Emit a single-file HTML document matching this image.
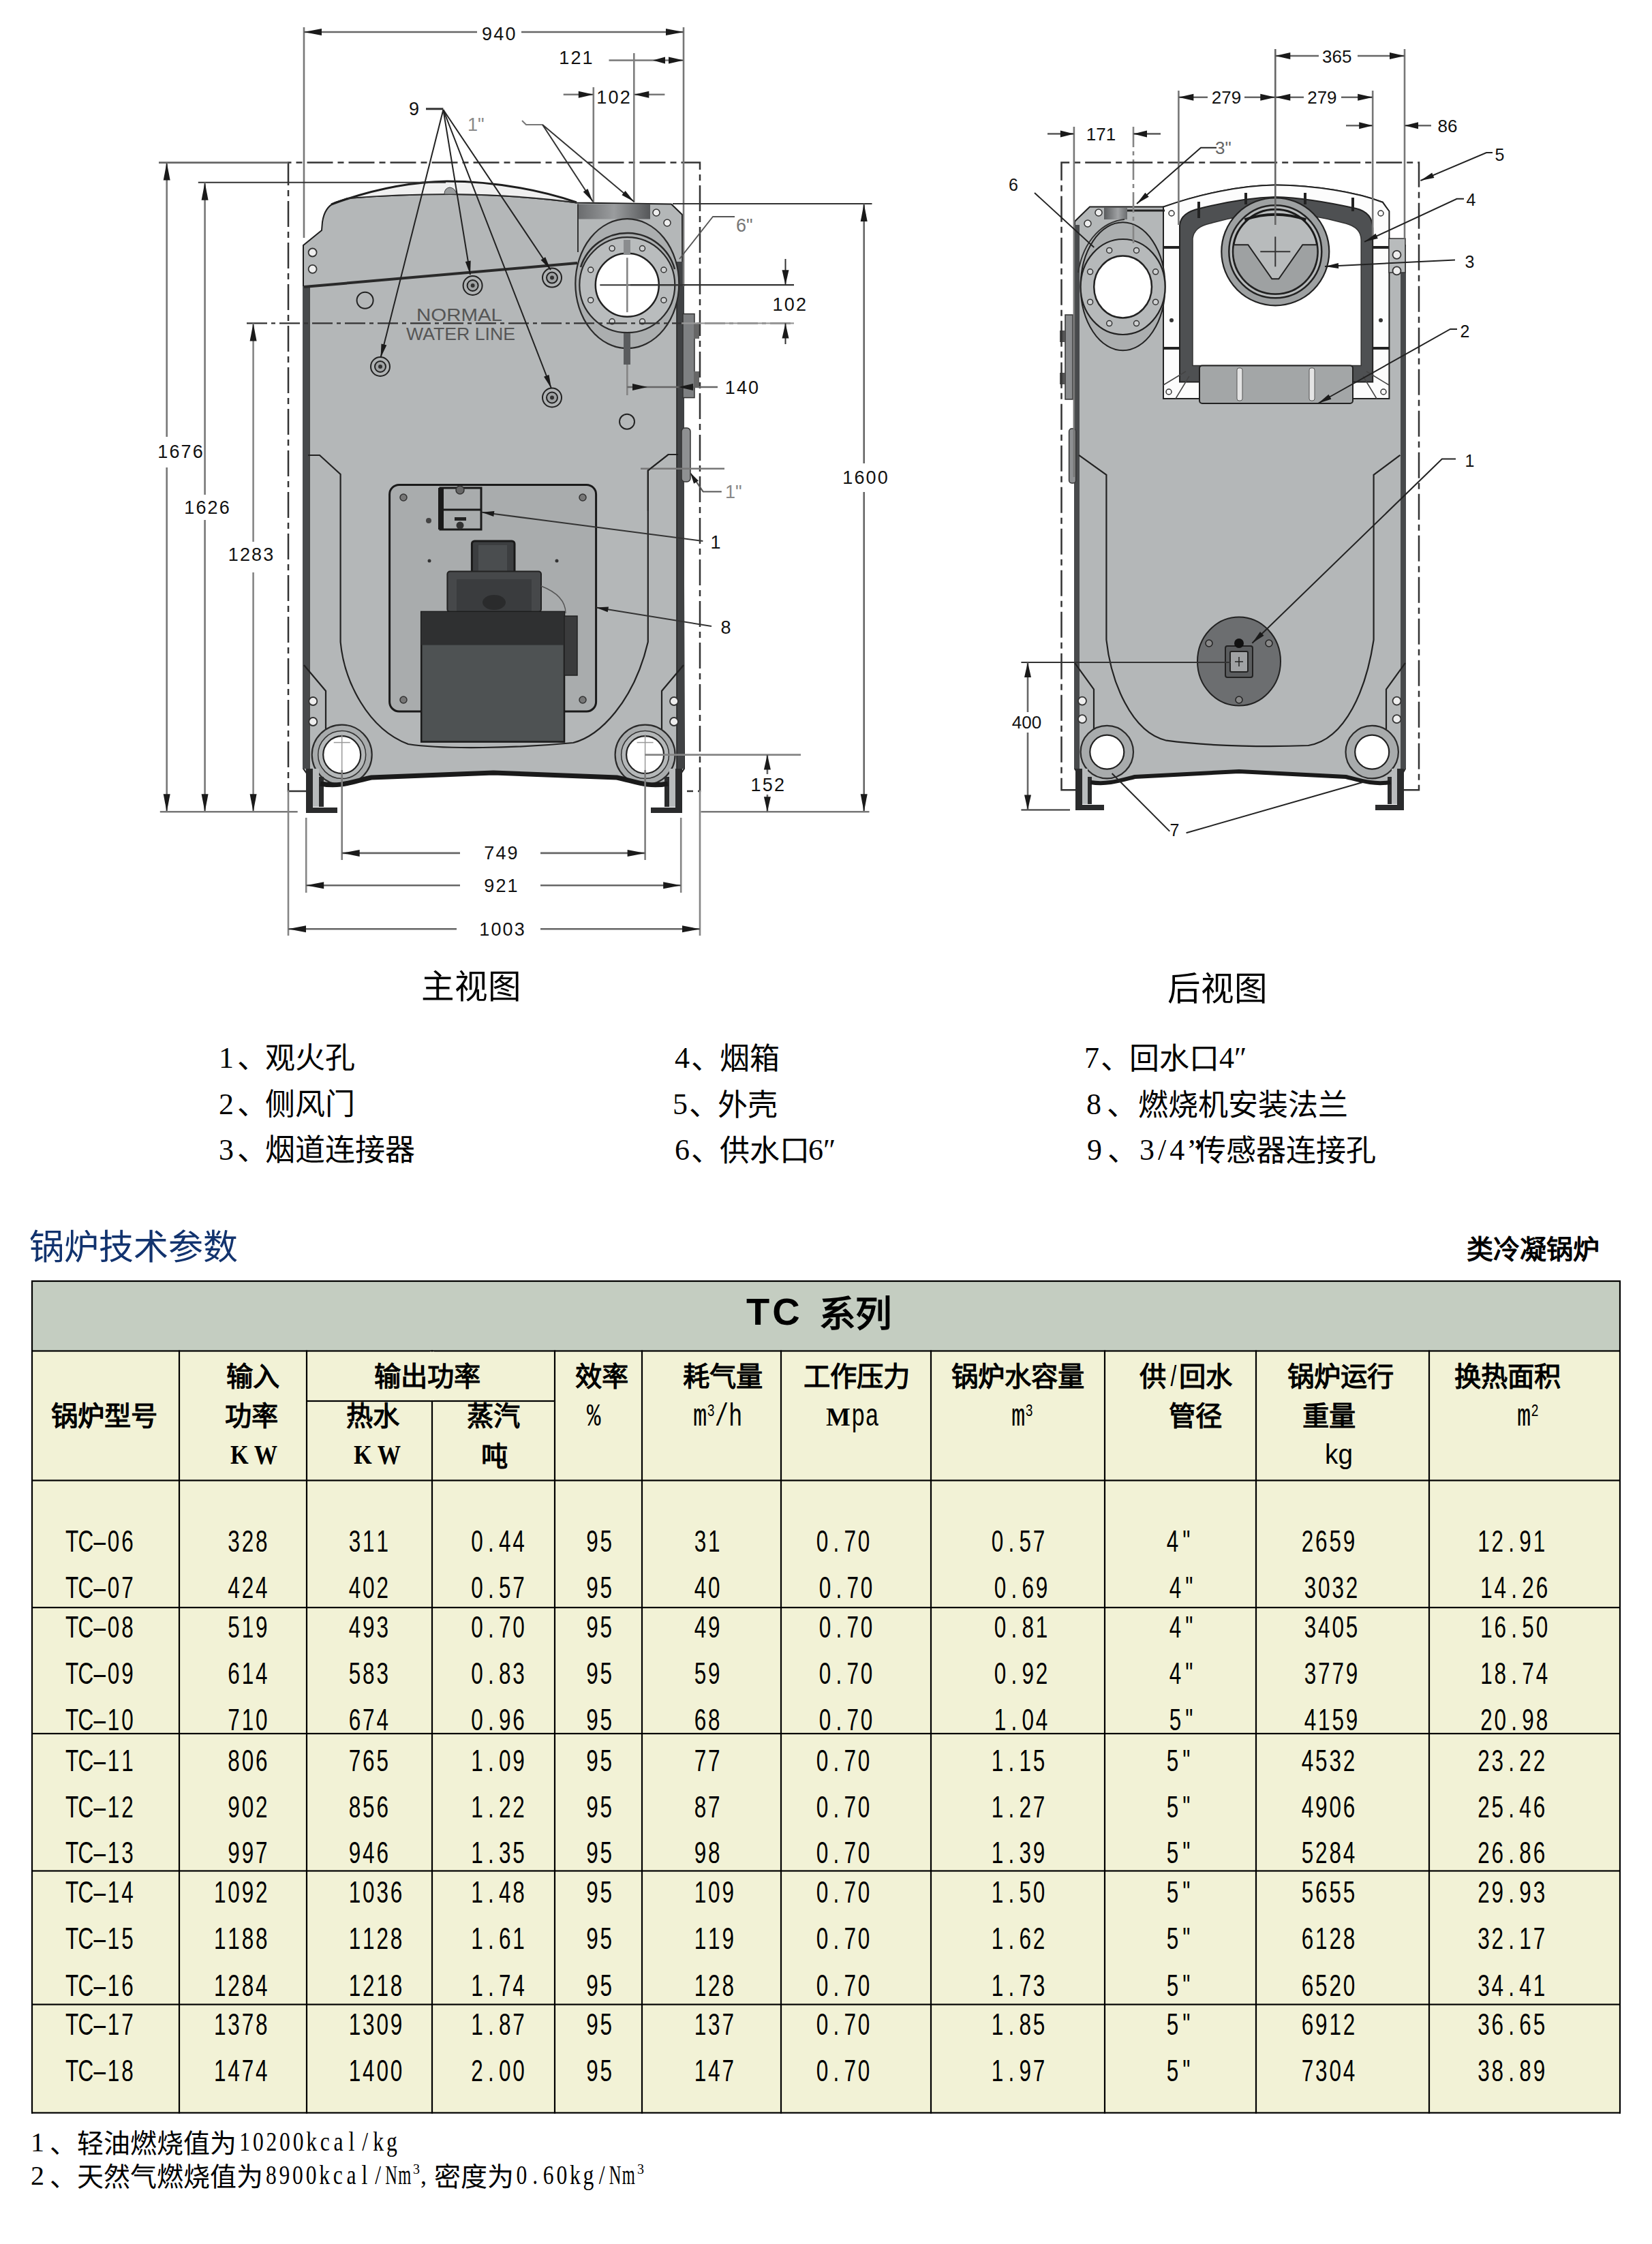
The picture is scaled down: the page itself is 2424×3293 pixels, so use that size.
<!DOCTYPE html>
<html lang="zh-CN"><head><meta charset="utf-8"><title>TC</title>
<style>
html,body{margin:0;padding:0;background:#fff}
body{width:2424px;height:3293px;overflow:hidden;position:relative}
svg{position:absolute;left:0;top:0}
.m{font-family:"Liberation Mono",monospace}
.s{font-family:"Liberation Sans",sans-serif}
.c{font-family:"Liberation Sans",sans-serif}
.sb{font-family:"Liberation Serif",serif;font-weight:bold}
.se{font-family:"Liberation Serif",serif}
.d{font-family:"Liberation Sans",sans-serif;font-size:26px;letter-spacing:2.5px}
</style></head><body>
<svg width="2424" height="3293" viewBox="0 0 2424 3293">
<path d="M445,1128 L445,360 L472,338 L473,326 Q476,304 492,297 L510,291 C560,287 620,285 662,285 C740,286 800,291 846,297.5 L985,299.5 L1001,315 L1004,1128 L992,1146 L950,1152 L905,1142 L724,1135 L545,1142 L500,1152 L458,1146 Z" fill="#B4B7B8" stroke="#1E1E1E" stroke-width="2"/>
<rect x="444" y="420" width="9" height="708" fill="#484A4C"/>
<rect x="993" y="384" width="11" height="744" fill="#404244"/>
<line x1="454" y1="420" x2="454" y2="1128" stroke="#222" stroke-width="1.5"/>
<line x1="993" y1="430" x2="993" y2="1128" stroke="#222" stroke-width="1.5"/>
<path d="M486,300 C540,280 600,267 656,266 C730,266 800,281 846,297 C800,291 740,286 662,285 C620,285 560,287 510,291 Z" fill="#F0F0F0" stroke="none" stroke-width="0"/>
<path d="M486,300 C540,280 600,267 656,266 C730,266 800,281 846,297" fill="none" stroke="#1e1e1e" stroke-width="3"/>
<path d="M510,291 C560,287 620,285 662,285 C740,286 800,291 846,297.5" fill="none" stroke="#2a2a2a" stroke-width="2"/>
<path d="M652,285 Q652,276 660,275 Q668,276 670,285 Z" fill="#9A9D9E" stroke="#444" stroke-width="1"/>
<path d="M446,421 L847,386" fill="none" stroke="#2a2a2a" stroke-width="4"/>
<circle cx="458.6" cy="370.5" r="6" fill="#EEE" stroke="#333" stroke-width="1.8"/>
<circle cx="458.6" cy="394.8" r="6" fill="#EEE" stroke="#333" stroke-width="1.8"/>
<defs><linearGradient id="fb" x1="0" x2="1"><stop offset="0" stop-color="#6A6C6E"/><stop offset="0.5" stop-color="#9A9C9E"/><stop offset="1" stop-color="#555759"/></linearGradient></defs>
<rect x="848" y="299.5" width="106" height="22" rx="0" fill="url(#fb)" stroke="none" stroke-width="0"/>
<path d="M848,299.5 L848,370" fill="none" stroke="#333" stroke-width="2"/>
<circle cx="963" cy="312" r="5" fill="#EEE" stroke="#333" stroke-width="1.5"/>
<circle cx="979" cy="327" r="5" fill="#EEE" stroke="#333" stroke-width="1.5"/>
<ellipse cx="920.3" cy="416.2" rx="76" ry="95" fill="#ABAEAF" stroke="#2a2a2a" stroke-width="2.2"/>
<path d="M852,392 A72,72 0 0 1 990,395" fill="none" stroke="#2a2a2a" stroke-width="2.5"/>
<polygon points="985.0,445.0 947.1,482.9 893.5,482.9 855.6,445.0 855.6,391.4 893.5,353.5 947.1,353.5 985.0,391.4" fill="#B9BCBD" stroke="#2a2a2a" stroke-width="2.2"/>
<circle cx="920.3" cy="418.2" r="70" fill="#B9BCBD" stroke="#2a2a2a" stroke-width="2.2"/>
<circle cx="973.9" cy="440.4" r="4" fill="#D0D2D3" stroke="#333" stroke-width="1.5"/>
<circle cx="942.5" cy="471.8" r="4" fill="#D0D2D3" stroke="#333" stroke-width="1.5"/>
<circle cx="898.1" cy="471.8" r="4" fill="#D0D2D3" stroke="#333" stroke-width="1.5"/>
<circle cx="866.7" cy="440.4" r="4" fill="#D0D2D3" stroke="#333" stroke-width="1.5"/>
<circle cx="866.7" cy="396.0" r="4" fill="#D0D2D3" stroke="#333" stroke-width="1.5"/>
<circle cx="898.1" cy="364.6" r="4" fill="#D0D2D3" stroke="#333" stroke-width="1.5"/>
<circle cx="942.5" cy="364.6" r="4" fill="#D0D2D3" stroke="#333" stroke-width="1.5"/>
<circle cx="973.9" cy="396.0" r="4" fill="#D0D2D3" stroke="#333" stroke-width="1.5"/>
<circle cx="920.3" cy="418.2" r="46.5" fill="#FFFFFF" stroke="#222" stroke-width="2.5"/>
<rect x="915" y="352" width="10" height="22" rx="0" fill="#8A8C8E" stroke="none" stroke-width="0"/>
<rect x="915" y="489" width="10" height="46" rx="0" fill="#5A5C5E" stroke="none" stroke-width="0"/>
<line x1="880.3" y1="418.2" x2="1005.3" y2="418.2" stroke="#333" stroke-width="2"/>
<line x1="920.3" y1="378.2" x2="920.3" y2="458.2" stroke="#858585" stroke-width="2.6"/>
<circle cx="693.6" cy="419" r="14" fill="#B0B3B4" stroke="#222" stroke-width="2"/>
<circle cx="693.6" cy="419" r="8" fill="#A0A3A4" stroke="#222" stroke-width="2"/>
<circle cx="693.6" cy="419" r="3" fill="#333" stroke="none" stroke-width="0"/>
<circle cx="810" cy="407.6" r="14" fill="#B0B3B4" stroke="#222" stroke-width="2"/>
<circle cx="810" cy="407.6" r="8" fill="#A0A3A4" stroke="#222" stroke-width="2"/>
<circle cx="810" cy="407.6" r="3" fill="#333" stroke="none" stroke-width="0"/>
<circle cx="558" cy="538" r="14" fill="#B0B3B4" stroke="#222" stroke-width="2"/>
<circle cx="558" cy="538" r="8" fill="#A0A3A4" stroke="#222" stroke-width="2"/>
<circle cx="558" cy="538" r="3" fill="#333" stroke="none" stroke-width="0"/>
<circle cx="810" cy="583.5" r="14" fill="#B0B3B4" stroke="#222" stroke-width="2"/>
<circle cx="810" cy="583.5" r="8" fill="#A0A3A4" stroke="#222" stroke-width="2"/>
<circle cx="810" cy="583.5" r="3" fill="#333" stroke="none" stroke-width="0"/>
<circle cx="535.6" cy="440.7" r="12" fill="none" stroke="#222" stroke-width="2"/>
<circle cx="920" cy="618.8" r="11" fill="none" stroke="#222" stroke-width="2"/>
<text x="611" y="471" style="font-family:'Liberation Sans',sans-serif;font-size:25px" fill="#555" textLength="126" lengthAdjust="spacingAndGlyphs">NORMAL</text>
<text x="596" y="498.5" style="font-family:'Liberation Sans',sans-serif;font-size:25px" fill="#555" textLength="160" lengthAdjust="spacingAndGlyphs">WATER LINE</text>
<line x1="362" y1="474.4" x2="1165" y2="474.4" stroke="#333" stroke-width="2.2" stroke-dasharray="30 6 6 6"/>
<rect x="1002" y="460.6" width="17" height="123" rx="0" fill="#7E8082" stroke="#333" stroke-width="1.5"/>
<rect x="1018" y="475" width="8" height="22" rx="0" fill="#666" stroke="none" stroke-width="0"/>
<rect x="1018" y="545" width="8" height="22" rx="0" fill="#666" stroke="none" stroke-width="0"/>
<rect x="1000" y="628" width="13" height="79" rx="5" fill="#8E9092" stroke="#333" stroke-width="1.5"/>
<path d="M452,668 L469,668 L499.6,696 L499.6,942 C505,1000 540,1070 599,1092 C650,1100 760,1098 841,1090 C880,1080 930,1030 950.8,942 L950.8,690.5 L980.7,667 L995,667" fill="none" stroke="#222" stroke-width="2.2"/>
<path d="M446,976 L478,1014 L478,1074" fill="none" stroke="#222" stroke-width="2.2"/>
<path d="M1003,976 L971,1014 L971,1074" fill="none" stroke="#222" stroke-width="2.2"/>
<circle cx="459.3" cy="1029" r="6" fill="#EEE" stroke="#333" stroke-width="1.8"/>
<circle cx="459.3" cy="1059" r="6" fill="#EEE" stroke="#333" stroke-width="1.8"/>
<circle cx="989" cy="1029" r="6" fill="#EEE" stroke="#333" stroke-width="1.8"/>
<circle cx="989" cy="1059" r="6" fill="#EEE" stroke="#333" stroke-width="1.8"/>
<rect x="571.6" y="711.4" width="303" height="332.6" rx="14" fill="#A9ACAD" stroke="#1a1a1a" stroke-width="3"/>
<circle cx="592" cy="730" r="5" fill="#777" stroke="#333" stroke-width="1.5"/>
<circle cx="855" cy="730" r="5" fill="#777" stroke="#333" stroke-width="1.5"/>
<circle cx="592" cy="1027" r="5" fill="#777" stroke="#333" stroke-width="1.5"/>
<circle cx="855" cy="1027" r="5" fill="#777" stroke="#333" stroke-width="1.5"/>
<circle cx="629" cy="764" r="4" fill="#444" stroke="none" stroke-width="0"/>
<circle cx="630" cy="823" r="2.5" fill="#333" stroke="none" stroke-width="0"/>
<circle cx="817" cy="823" r="2.5" fill="#333" stroke="none" stroke-width="0"/>
<path d="M646,716 L706,716 L706,777 L646,777 Z" fill="none" stroke="#1a1a1a" stroke-width="3"/>
<rect x="643" y="716" width="8" height="61" rx="0" fill="#1a1a1a" stroke="none" stroke-width="0"/>
<line x1="646" y1="748" x2="706" y2="748" stroke="#1a1a1a" stroke-width="3"/>
<rect x="667" y="759" width="17" height="5" rx="0" fill="#222" stroke="none" stroke-width="0"/>
<circle cx="675" cy="771" r="5.5" fill="#333" stroke="none" stroke-width="0"/>
<circle cx="675" cy="719" r="6" fill="#666" stroke="#333" stroke-width="1.5"/>
<rect x="692.4" y="794" width="62.6" height="56" rx="4" fill="#3C3E40" stroke="#1a1a1a" stroke-width="3"/>
<rect x="702" y="800" width="42" height="42" rx="0" fill="#4A4D4F" stroke="none" stroke-width="0"/>
<rect x="656.4" y="838.6" width="137.6" height="59.3" rx="4" fill="#46484A" stroke="#222" stroke-width="2"/>
<rect x="670" y="850" width="110" height="48" rx="0" fill="#3A3C3E" stroke="none" stroke-width="0"/>
<ellipse cx="725" cy="884" rx="17" ry="11" fill="#2A2B2C"/>
<rect x="618.2" y="897.9" width="209.8" height="190.7" rx="0" fill="#4E5253" stroke="#1a1a1a" stroke-width="2.5"/>
<rect x="618.2" y="897.9" width="209.8" height="48.7" rx="0" fill="#2F3031" stroke="none" stroke-width="0"/>
<rect x="828" y="904" width="19" height="87" rx="0" fill="#3A3B3C" stroke="#222" stroke-width="1.5"/>
<path d="M794,860 C820,870 830,885 830,900" fill="none" stroke="#555" stroke-width="1.5"/>
<circle cx="501.7" cy="1107.6" r="44" fill="#A8ABAC" stroke="#2a2a2a" stroke-width="2.2"/>
<circle cx="501.7" cy="1107.6" r="35" fill="#B5B8B9" stroke="#333" stroke-width="1.5"/>
<circle cx="501.7" cy="1107.6" r="27.5" fill="#FFFFFF" stroke="#222" stroke-width="2.2"/>
<line x1="489.7" y1="1089.6" x2="513.7" y2="1089.6" stroke="#999" stroke-width="1.5"/>
<line x1="501.7" y1="1077.6" x2="501.7" y2="1137.6" stroke="#999" stroke-width="1.5"/>
<circle cx="946.6" cy="1107.6" r="44" fill="#A8ABAC" stroke="#2a2a2a" stroke-width="2.2"/>
<circle cx="946.6" cy="1107.6" r="35" fill="#B5B8B9" stroke="#333" stroke-width="1.5"/>
<circle cx="946.6" cy="1107.6" r="27.5" fill="#FFFFFF" stroke="#222" stroke-width="2.2"/>
<line x1="934.6" y1="1089.6" x2="958.6" y2="1089.6" stroke="#999" stroke-width="1.5"/>
<line x1="946.6" y1="1077.6" x2="946.6" y2="1137.6" stroke="#999" stroke-width="1.5"/>
<polygon points="449,1128 459,1128 459,1185 495,1185 495,1193 449,1193" fill="#2A2B2C"/>
<polygon points="459,1128 468,1128 468,1184 459,1184" fill="#B8BBBC"/>
<polygon points="468,1140 475,1140 475,1184 468,1184" fill="#2A2B2C"/>
<polygon points="1001,1128 991,1128 991,1185 955,1185 955,1193 1001,1193" fill="#2A2B2C"/>
<polygon points="991,1128 982,1128 982,1184 991,1184" fill="#B8BBBC"/>
<polygon points="982,1140 975,1140 975,1184 982,1184" fill="#2A2B2C"/>
<path d="M470,1150 C500,1156 520,1146 545,1141 L724,1134 L905,1141 C930,1146 950,1156 980,1150" fill="none" stroke="#1a1a1a" stroke-width="7"/>
<path d="M449,1161 L423,1161 L423,238.5 L1027,238.5 L1027,1161 L1001,1161" fill="none" stroke="#333" stroke-width="2.5" stroke-dasharray="38 7 9 7"/>
<line x1="446" y1="40" x2="446" y2="349" stroke="#777" stroke-width="2.6"/>
<line x1="1003" y1="40" x2="1003" y2="420" stroke="#777" stroke-width="2.6"/>
<line x1="446" y1="47" x2="700" y2="47" stroke="#666" stroke-width="2.6"/>
<line x1="765" y1="47" x2="1003" y2="47" stroke="#666" stroke-width="2.6"/>
<polygon points="446,47 472.0,42.0 472.0,52.0" fill="#1a1a1a"/>
<polygon points="1003,47 977.0,52.0 977.0,42.0" fill="#1a1a1a"/>
<text x="707.0" y="58.5" style="font-family:'Liberation Sans',sans-serif;font-size:27px;letter-spacing:2.2px;font-weight:400" fill="#111">940</text>
<line x1="893.5" y1="88.5" x2="1003" y2="88.5" stroke="#777" stroke-width="2.6"/>
<line x1="930.3" y1="78" x2="930.3" y2="297" stroke="#7d7d7d" stroke-width="2.6"/>
<polygon points="958,88.5 976.0,83.5 976.0,93.5" fill="#1a1a1a"/>
<polygon points="1003,88.5 981.0,93.5 981.0,83.5" fill="#1a1a1a"/>
<text x="820.2" y="94" style="font-family:'Liberation Sans',sans-serif;font-size:27px;letter-spacing:2.2px;font-weight:400" fill="#111">121</text>
<line x1="870.8" y1="128" x2="870.8" y2="297" stroke="#7d7d7d" stroke-width="2.6"/>
<line x1="826.7" y1="138.7" x2="870.8" y2="138.7" stroke="#777" stroke-width="2.6"/>
<line x1="930.3" y1="138.7" x2="975.4" y2="138.7" stroke="#777" stroke-width="2.6"/>
<polygon points="870.8,138.7 848.8,143.7 848.8,133.7" fill="#1a1a1a"/>
<polygon points="930.3,138.7 952.3,133.7 952.3,143.7" fill="#1a1a1a"/>
<text x="875.3" y="152" style="font-family:'Liberation Sans',sans-serif;font-size:27px;letter-spacing:2.2px;font-weight:400" fill="#111">102</text>
<line x1="987" y1="299" x2="1279.5" y2="299" stroke="#333" stroke-width="2"/>
<line x1="1267.7" y1="299" x2="1267.7" y2="680" stroke="#666" stroke-width="2.6"/>
<line x1="1267.7" y1="722" x2="1267.7" y2="1191.3" stroke="#666" stroke-width="2.6"/>
<polygon points="1267.7,299 1272.7,325.0 1262.7,325.0" fill="#1a1a1a"/>
<polygon points="1267.7,1191.3 1262.7,1165.3 1272.7,1165.3" fill="#1a1a1a"/>
<text x="1236.2" y="710" style="font-family:'Liberation Sans',sans-serif;font-size:27px;letter-spacing:2.2px;font-weight:400" fill="#111">1600</text>
<line x1="925" y1="418.2" x2="1165" y2="418.2" stroke="#333" stroke-width="2.2"/>
<line x1="1000" y1="474.4" x2="1165" y2="474.4" stroke="#999" stroke-width="2.2"/>
<line x1="1152.5" y1="380" x2="1152.5" y2="418.2" stroke="#333" stroke-width="2"/>
<line x1="1152.5" y1="474.4" x2="1152.5" y2="505" stroke="#333" stroke-width="2"/>
<polygon points="1152.5,418.2 1147.5,396.2 1157.5,396.2" fill="#1a1a1a"/>
<polygon points="1152.5,474.4 1157.5,496.4 1147.5,496.4" fill="#1a1a1a"/>
<text x="1133.5" y="456" style="font-family:'Liberation Sans',sans-serif;font-size:27px;letter-spacing:2.2px;font-weight:400" fill="#111">102</text>
<line x1="920.3" y1="535" x2="920.3" y2="580" stroke="#858585" stroke-width="2.6"/>
<line x1="920.3" y1="568" x2="1053" y2="568" stroke="#666" stroke-width="2.6"/>
<polygon points="950,568 928.0,573.0 928.0,563.0" fill="#1a1a1a"/>
<polygon points="995,568 1017.0,563.0 1017.0,573.0" fill="#1a1a1a"/>
<text x="1063.7" y="578" style="font-family:'Liberation Sans',sans-serif;font-size:27px;letter-spacing:2.2px;font-weight:400" fill="#111">140</text>
<line x1="233" y1="238.6" x2="423" y2="238.6" stroke="#666" stroke-width="2.6"/>
<line x1="290.8" y1="267.7" x2="654" y2="267.7" stroke="#333" stroke-width="2"/>
<line x1="244.7" y1="238.6" x2="244.7" y2="641" stroke="#777" stroke-width="2.6"/>
<line x1="244.7" y1="686" x2="244.7" y2="1191.3" stroke="#777" stroke-width="2.6"/>
<polygon points="244.7,238.6 249.7,264.6 239.7,264.6" fill="#1a1a1a"/>
<polygon points="244.7,1191.3 239.7,1165.3 249.7,1165.3" fill="#1a1a1a"/>
<text x="231.2" y="671.5" style="font-family:'Liberation Sans',sans-serif;font-size:27px;letter-spacing:2.2px;font-weight:400" fill="#111">1676</text>
<line x1="300.6" y1="267.7" x2="300.6" y2="726" stroke="#777" stroke-width="2.6"/>
<line x1="300.6" y1="763" x2="300.6" y2="1191.3" stroke="#777" stroke-width="2.6"/>
<polygon points="300.6,267.7 305.6,293.7 295.6,293.7" fill="#1a1a1a"/>
<polygon points="300.6,1191.3 295.6,1165.3 305.6,1165.3" fill="#1a1a1a"/>
<text x="270.2" y="754" style="font-family:'Liberation Sans',sans-serif;font-size:27px;letter-spacing:2.2px;font-weight:400" fill="#111">1626</text>
<line x1="371.6" y1="474.4" x2="371.6" y2="795" stroke="#858585" stroke-width="2.6"/>
<line x1="371.6" y1="840" x2="371.6" y2="1191.3" stroke="#858585" stroke-width="2.6"/>
<polygon points="371.6,474.4 376.6,500.4 366.6,500.4" fill="#1a1a1a"/>
<polygon points="371.6,1191.3 366.6,1165.3 376.6,1165.3" fill="#1a1a1a"/>
<text x="334.7" y="823" style="font-family:'Liberation Sans',sans-serif;font-size:27px;letter-spacing:2.2px;font-weight:400" fill="#111">1283</text>
<line x1="234.8" y1="1191.3" x2="436.7" y2="1191.3" stroke="#777" stroke-width="2.6"/>
<line x1="1028.4" y1="1191.3" x2="1275.5" y2="1191.3" stroke="#777" stroke-width="2.6"/>
<line x1="946" y1="1107.6" x2="1175" y2="1107.6" stroke="#858585" stroke-width="2.6"/>
<line x1="1125.9" y1="1107.6" x2="1125.9" y2="1191.3" stroke="#666" stroke-width="2.6"/>
<polygon points="1125.9,1107.6 1130.9,1129.6 1120.9,1129.6" fill="#1a1a1a"/>
<polygon points="1125.9,1191.3 1120.9,1169.3 1130.9,1169.3" fill="#1a1a1a"/>
<rect x="1100" y="1136" width="56" height="30" fill="#fff"/>
<text x="1101.5" y="1161" style="font-family:'Liberation Sans',sans-serif;font-size:27px;letter-spacing:2.2px;font-weight:400" fill="#111">152</text>
<line x1="501.7" y1="1130" x2="501.7" y2="1262" stroke="#7d7d7d" stroke-width="2.6"/>
<line x1="946.6" y1="1130" x2="946.6" y2="1262" stroke="#7d7d7d" stroke-width="2.6"/>
<line x1="501.7" y1="1251.9" x2="675" y2="1251.9" stroke="#666" stroke-width="2.6"/>
<line x1="793" y1="1251.9" x2="946.6" y2="1251.9" stroke="#666" stroke-width="2.6"/>
<polygon points="501.7,1251.9 527.7,1246.9 527.7,1256.9" fill="#1a1a1a"/>
<polygon points="946.6,1251.9 920.6,1256.9 920.6,1246.9" fill="#1a1a1a"/>
<text x="710.2" y="1261" style="font-family:'Liberation Sans',sans-serif;font-size:27px;letter-spacing:2.2px;font-weight:400" fill="#111">749</text>
<line x1="449.2" y1="1200" x2="449.2" y2="1310" stroke="#858585" stroke-width="2.6"/>
<line x1="999.2" y1="1200" x2="999.2" y2="1310" stroke="#858585" stroke-width="2.6"/>
<line x1="449.2" y1="1299.2" x2="675" y2="1299.2" stroke="#666" stroke-width="2.6"/>
<line x1="793" y1="1299.2" x2="999.2" y2="1299.2" stroke="#666" stroke-width="2.6"/>
<polygon points="449.2,1299.2 475.2,1294.2 475.2,1304.2" fill="#1a1a1a"/>
<polygon points="999.2,1299.2 973.2,1304.2 973.2,1294.2" fill="#1a1a1a"/>
<text x="710.2" y="1308.5" style="font-family:'Liberation Sans',sans-serif;font-size:27px;letter-spacing:2.2px;font-weight:400" fill="#111">921</text>
<line x1="423" y1="1160" x2="423" y2="1373" stroke="#858585" stroke-width="2.6"/>
<line x1="1027" y1="1160" x2="1027" y2="1373" stroke="#858585" stroke-width="2.6"/>
<line x1="423" y1="1363.3" x2="670" y2="1363.3" stroke="#666" stroke-width="2.6"/>
<line x1="793" y1="1363.3" x2="1027" y2="1363.3" stroke="#666" stroke-width="2.6"/>
<polygon points="423,1363.3 449.0,1358.3 449.0,1368.3" fill="#1a1a1a"/>
<polygon points="1027,1363.3 1001.0,1368.3 1001.0,1358.3" fill="#1a1a1a"/>
<text x="703.2" y="1373" style="font-family:'Liberation Sans',sans-serif;font-size:27px;letter-spacing:2.2px;font-weight:400" fill="#111">1003</text>
<text x="599.9" y="169" style="font-family:'Liberation Sans',sans-serif;font-size:27px;letter-spacing:2.2px;font-weight:400" fill="#111">9</text>
<line x1="625" y1="159.8" x2="650.4" y2="159.8" stroke="#333" stroke-width="3"/>
<line x1="650.4" y1="161" x2="558.5" y2="525" stroke="#222" stroke-width="2"/>
<polygon points="558.5,525 559.5,504.6 567.3,506.6" fill="#1a1a1a"/>
<line x1="650.4" y1="161" x2="690" y2="403" stroke="#222" stroke-width="2"/>
<polygon points="690,403 682.8,383.9 690.7,382.6" fill="#1a1a1a"/>
<line x1="650.4" y1="161" x2="808" y2="396" stroke="#222" stroke-width="2"/>
<polygon points="808,396 793.5,381.6 800.2,377.2" fill="#1a1a1a"/>
<line x1="650.4" y1="161" x2="809" y2="570" stroke="#222" stroke-width="2"/>
<polygon points="809,570 798.0,552.8 805.5,549.9" fill="#1a1a1a"/>
<text x="686" y="192" style="font-family:'Liberation Sans',sans-serif;font-size:27px" fill="#888">1"</text>
<path d="M766,177 L772,183 L796,183" fill="none" stroke="#777" stroke-width="2"/>
<line x1="796" y1="183" x2="870" y2="296" stroke="#333" stroke-width="2"/>
<line x1="796" y1="183" x2="930.3" y2="296" stroke="#333" stroke-width="2"/>
<polygon points="870,296 855.7,281.5 862.4,277.1" fill="#1a1a1a"/>
<polygon points="930.3,296 912.4,286.2 917.6,280.1" fill="#1a1a1a"/>
<text x="1080" y="340" style="font-family:'Liberation Sans',sans-serif;font-size:27px" fill="#777">6"</text>
<path d="M997,380 L1046,318 L1078,318" fill="none" stroke="#555" stroke-width="1.8"/>
<line x1="707" y1="751.7" x2="1031.4" y2="794" stroke="#333" stroke-width="2"/>
<polygon points="707,751.7 725.4,750.1 724.3,758.0" fill="#1a1a1a"/>
<text x="1042.5" y="804.5" style="font-family:'Liberation Sans',sans-serif;font-size:27px;letter-spacing:2.2px;font-weight:400" fill="#111">1</text>
<line x1="874.6" y1="891.5" x2="1044" y2="919" stroke="#333" stroke-width="2"/>
<polygon points="874.6,891.5 893.0,890.4 891.7,898.3" fill="#1a1a1a"/>
<text x="1057.5" y="929.5" style="font-family:'Liberation Sans',sans-serif;font-size:27px;letter-spacing:2.2px;font-weight:400" fill="#111">8</text>
<path d="M1013,694 L1031.6,721.4 L1058.8,721.4" fill="none" stroke="#555" stroke-width="2"/>
<polygon points="1013,694 1024.9,705.4 1018.1,709.7" fill="#1a1a1a"/>
<text x="1064" y="731" style="font-family:'Liberation Sans',sans-serif;font-size:27px" fill="#888">1"</text>
<line x1="940" y1="687.8" x2="1063" y2="687.8" stroke="#777" stroke-width="2.5"/>
<path d="M950.8,749.6 L950.8,690.5 L980.7,667 L995,667" fill="none" stroke="#222" stroke-width="2"/>
<path d="M1577,1128 L1577,325 L1583,319 L1599,303.5 L1709,303.5 C1760,285 1820,272 1871,271.5 C1930,272 1990,282 2028.7,296.7 L2038,310 L2038,350 L2062,360 L2062,1128 L2052,1146 L2015,1150 L1975,1140 L1818,1133 L1665,1140 L1625,1150 L1588,1146 Z" fill="#B4B7B8" stroke="#1E1E1E" stroke-width="2"/>
<rect x="1576" y="330" width="8" height="798" rx="0" fill="#484A4C" stroke="none" stroke-width="0"/>
<rect x="2055" y="362" width="8" height="766" rx="0" fill="#484A4C" stroke="none" stroke-width="0"/>
<path d="M1707,585 L1707,303.5 C1760,285 1820,272 1871,271.5 C1930,272 1990,282 2028.7,296.7 L2038.4,310 L2038.4,585 Z" fill="#FCFCFC" stroke="#222" stroke-width="2"/>
<path d="M1731,560.6 L1731,330 Q1733,312 1760,306 C1800,296 1840,290 1871,289 C1905,290 1950,297 1990,306 Q2014,312 2014.2,335 L2014.2,560.6 Z" fill="#4E5052" stroke="#222" stroke-width="2"/>
<path d="M1750,536.4 L1750,350 Q1752,333 1775,328 C1810,318 1845,313 1871,312 C1900,313 1940,318 1975,328 Q1997,334 1997.2,352 L1997.2,536.4 Z" fill="#FFFFFF" stroke="#333" stroke-width="1.5"/>
<line x1="1707" y1="363" x2="1731" y2="363" stroke="#222" stroke-width="4"/>
<line x1="1707" y1="511" x2="1731" y2="511" stroke="#222" stroke-width="4"/>
<line x1="2014" y1="363" x2="2038" y2="363" stroke="#222" stroke-width="4"/>
<line x1="2014" y1="511" x2="2038" y2="511" stroke="#222" stroke-width="4"/>
<line x1="1759" y1="296" x2="1759" y2="320" stroke="#222" stroke-width="4"/>
<line x1="1828" y1="283" x2="1828" y2="300" stroke="#222" stroke-width="4"/>
<line x1="1915" y1="283" x2="1915" y2="300" stroke="#222" stroke-width="4"/>
<line x1="1985" y1="290" x2="1985" y2="310" stroke="#222" stroke-width="4"/>
<circle cx="1719" cy="313" r="4" fill="none" stroke="#333" stroke-width="1.5"/>
<circle cx="2026" cy="313" r="4" fill="none" stroke="#333" stroke-width="1.5"/>
<circle cx="1719" cy="470" r="3" fill="#333" stroke="none" stroke-width="0"/>
<circle cx="2026" cy="470" r="3" fill="#333" stroke="none" stroke-width="0"/>
<circle cx="1715" cy="575" r="4" fill="none" stroke="#333" stroke-width="1.5"/>
<circle cx="2030" cy="575" r="4" fill="none" stroke="#333" stroke-width="1.5"/>
<path d="M1707,565 L1740,545 M1725,585 L1745,552 M2038,565 L2005,545 M2020,585 L2000,552" fill="none" stroke="#444" stroke-width="1.5"/>
<circle cx="1871.3" cy="369.3" r="79" fill="#9EA1A2" stroke="#222" stroke-width="2.2"/>
<circle cx="1871.3" cy="369.3" r="68" fill="#B6B9BA" stroke="#222" stroke-width="2.5"/>
<circle cx="1871.3" cy="369.3" r="62" fill="#B8BBBC" stroke="#1a1a1a" stroke-width="3"/>
<path d="M1810.1,359.3 L1831.3,359.3 L1866.3,409.3 L1876.3,409.3 L1911.3,359.3 L1932.5,359.3 A62,62 0 1 1 1810.1,359.3 Z" fill="#9EA1A2" stroke="#222" stroke-width="2"/>
<path d="M1826.3,322.3 Q1871.3,307.3 1916.3,322.3" fill="none" stroke="#1a1a1a" stroke-width="4"/>
<line x1="1849.3" y1="369.3" x2="1893.3" y2="369.3" stroke="#333" stroke-width="2"/>
<line x1="1871.3" y1="347.3" x2="1871.3" y2="391.3" stroke="#333" stroke-width="2"/>
<rect x="1760" y="536.4" width="225" height="55.6" rx="4" fill="#A3A6A7" stroke="#222" stroke-width="2"/>
<rect x="1815" y="540" width="8" height="48" rx="3" fill="#E4E4E4" stroke="#555" stroke-width="1"/>
<rect x="1921" y="540" width="8" height="48" rx="3" fill="#E4E4E4" stroke="#555" stroke-width="1"/>
<rect x="2038" y="350" width="24" height="50" rx="0" fill="#B8BBBC" stroke="#333" stroke-width="1.5"/>
<circle cx="2049.5" cy="373.8" r="6" fill="#EEE" stroke="#333" stroke-width="1.8"/>
<circle cx="2049.5" cy="397.4" r="6" fill="#EEE" stroke="#333" stroke-width="1.8"/>
<defs><linearGradient id="fb2" x1="0" x2="1"><stop offset="0" stop-color="#5A5C5E"/><stop offset="0.6" stop-color="#A0A2A4"/><stop offset="1" stop-color="#6A6C6E"/></linearGradient></defs>
<rect x="1620" y="305" width="34" height="17" rx="0" fill="url(#fb2)" stroke="none" stroke-width="0"/>
<line x1="1654" y1="309" x2="1709" y2="309" stroke="#222" stroke-width="3"/>
<circle cx="1612" cy="312" r="5" fill="#EEE" stroke="#333" stroke-width="1.5"/>
<circle cx="1596" cy="328" r="5" fill="#EEE" stroke="#333" stroke-width="1.5"/>
<ellipse cx="1647.6" cy="420.3" rx="62" ry="94" fill="#ABAEAF" stroke="#222" stroke-width="2"/>
<ellipse cx="1647.6" cy="421" rx="62" ry="70" fill="#B6B9BA" stroke="#222" stroke-width="2.2"/>
<circle cx="1695.6" cy="443.2" r="4" fill="#D0D2D3" stroke="#333" stroke-width="1.5"/>
<circle cx="1667.5" cy="474.6" r="4" fill="#D0D2D3" stroke="#333" stroke-width="1.5"/>
<circle cx="1627.7" cy="474.6" r="4" fill="#D0D2D3" stroke="#333" stroke-width="1.5"/>
<circle cx="1599.6" cy="443.2" r="4" fill="#D0D2D3" stroke="#333" stroke-width="1.5"/>
<circle cx="1599.6" cy="398.8" r="4" fill="#D0D2D3" stroke="#333" stroke-width="1.5"/>
<circle cx="1627.7" cy="367.4" r="4" fill="#D0D2D3" stroke="#333" stroke-width="1.5"/>
<circle cx="1667.5" cy="367.4" r="4" fill="#D0D2D3" stroke="#333" stroke-width="1.5"/>
<circle cx="1695.6" cy="398.8" r="4" fill="#D0D2D3" stroke="#333" stroke-width="1.5"/>
<ellipse cx="1647.6" cy="421" rx="42.4" ry="45.4" fill="#FFFFFF" stroke="#222" stroke-width="2.5"/>
<path d="M1582,400 C1590,350 1620,325 1650,322" fill="none" stroke="#333" stroke-width="2"/>
<line x1="1663" y1="186" x2="1663" y2="357" stroke="#858585" stroke-width="2.6" stroke-dasharray="30 6 6 6"/>
<rect x="1563" y="462" width="11" height="124" rx="0" fill="#8A8C8E" stroke="#333" stroke-width="1.5"/>
<rect x="1555" y="485" width="8" height="17" rx="0" fill="#555" stroke="none" stroke-width="0"/>
<rect x="1555" y="547" width="8" height="17" rx="0" fill="#555" stroke="none" stroke-width="0"/>
<rect x="1568.6" y="629" width="10" height="80" rx="4" fill="#8E9092" stroke="#333" stroke-width="1.5"/>
<path d="M1583,667.8 L1623.4,696.9 L1623.4,939 C1630,1000 1660,1075 1711.5,1086.7 C1780,1096 1870,1096 1919.7,1094 C1975,1085 2005,1010 2015.6,939 L2015.6,696.9 L2054.4,667.8" fill="none" stroke="#222" stroke-width="2.2"/>
<path d="M1577,972.9 L1605,1011.6 L1605,1084" fill="none" stroke="#222" stroke-width="2.2"/>
<path d="M2062,972.9 L2034,1011.6 L2034,1084" fill="none" stroke="#222" stroke-width="2.2"/>
<circle cx="1588" cy="1028.6" r="6" fill="#EEE" stroke="#333" stroke-width="1.8"/>
<circle cx="1588" cy="1055.2" r="6" fill="#EEE" stroke="#333" stroke-width="1.8"/>
<circle cx="2049.5" cy="1028.6" r="6" fill="#EEE" stroke="#333" stroke-width="1.8"/>
<circle cx="2049.5" cy="1055.2" r="6" fill="#EEE" stroke="#333" stroke-width="1.8"/>
<ellipse cx="1818" cy="970.5" rx="61" ry="65" fill="#6C6E70" stroke="#222" stroke-width="2"/>
<rect x="1798" y="948" width="40" height="46" rx="3" fill="#5A5C5E" stroke="#222" stroke-width="2"/>
<rect x="1805" y="956" width="26" height="30" rx="2" fill="#A0A2A4" stroke="#222" stroke-width="2"/>
<line x1="1812" y1="971" x2="1824" y2="971" stroke="#222" stroke-width="1.5"/>
<line x1="1818" y1="964" x2="1818" y2="978" stroke="#222" stroke-width="1.5"/>
<circle cx="1818" cy="944" r="7" fill="#111" stroke="none" stroke-width="0"/>
<circle cx="1774" cy="944" r="5" fill="#888" stroke="#222" stroke-width="1.5"/>
<circle cx="1862" cy="944" r="5" fill="#888" stroke="#222" stroke-width="1.5"/>
<circle cx="1818" cy="1027" r="5" fill="#888" stroke="#222" stroke-width="1.5"/>
<circle cx="1624.3" cy="1103.6" r="38.7" fill="#A8ABAC" stroke="#2a2a2a" stroke-width="2.2"/>
<circle cx="1624.3" cy="1103.6" r="25" fill="#FFFFFF" stroke="#222" stroke-width="2.2"/>
<circle cx="2013.2" cy="1103.6" r="38.7" fill="#A8ABAC" stroke="#2a2a2a" stroke-width="2.2"/>
<circle cx="2013.2" cy="1103.6" r="25" fill="#FFFFFF" stroke="#222" stroke-width="2.2"/>
<polygon points="1578,1128 1588,1128 1588,1181 1620,1181 1620,1189 1578,1189" fill="#2A2B2C"/>
<polygon points="1588,1128 1596,1128 1596,1180 1588,1180" fill="#B8BBBC"/>
<polygon points="1596,1140 1602,1140 1602,1180 1596,1180" fill="#2A2B2C"/>
<polygon points="2060,1128 2050,1128 2050,1181 2018,1181 2018,1189 2060,1189" fill="#2A2B2C"/>
<polygon points="2050,1128 2042,1128 2042,1180 2050,1180" fill="#B8BBBC"/>
<polygon points="2042,1140 2036,1140 2036,1180 2042,1180" fill="#2A2B2C"/>
<path d="M1600,1148 C1625,1152 1645,1145 1665,1140 L1818,1132 L1975,1140 C1995,1145 2015,1152 2040,1148" fill="none" stroke="#1a1a1a" stroke-width="6"/>
<path d="M1578,1159.3 L1557.5,1159.3 L1557.5,238.5 L2082,238.5 L2082,1159.3 L2060,1159.3" fill="none" stroke="#333" stroke-width="2.5" stroke-dasharray="38 7 9 7"/>
<line x1="1871.3" y1="72" x2="1871.3" y2="330" stroke="#666" stroke-width="2.6"/>
<line x1="2061" y1="72" x2="2061" y2="350" stroke="#777" stroke-width="2.6"/>
<line x1="1871.3" y1="82" x2="1935" y2="82" stroke="#666" stroke-width="2.6"/>
<line x1="1992" y1="82" x2="2061" y2="82" stroke="#666" stroke-width="2.6"/>
<polygon points="1871.3,82 1893.3,77.0 1893.3,87.0" fill="#1a1a1a"/>
<polygon points="2061,82 2039.0,87.0 2039.0,77.0" fill="#1a1a1a"/>
<text x="1940.0" y="91.5" style="font-family:'Liberation Sans',sans-serif;font-size:26px;letter-spacing:0px;font-weight:400" fill="#111">365</text>
<line x1="1729.4" y1="133" x2="1729.4" y2="330" stroke="#777" stroke-width="2.6"/>
<line x1="2014.2" y1="133" x2="2014.2" y2="350" stroke="#777" stroke-width="2.6"/>
<line x1="1729.4" y1="142.7" x2="1772" y2="142.7" stroke="#666" stroke-width="2.6"/>
<line x1="1826" y1="142.7" x2="1913" y2="142.7" stroke="#666" stroke-width="2.6"/>
<line x1="1968" y1="142.7" x2="2014.2" y2="142.7" stroke="#666" stroke-width="2.6"/>
<polygon points="1729.4,142.7 1751.4,137.7 1751.4,147.7" fill="#1a1a1a"/>
<polygon points="1871.3,142.7 1849.3,147.7 1849.3,137.7" fill="#1a1a1a"/>
<polygon points="1871.3,142.7 1893.3,137.7 1893.3,147.7" fill="#1a1a1a"/>
<polygon points="2014.2,142.7 1992.2,147.7 1992.2,137.7" fill="#1a1a1a"/>
<text x="1777.8" y="152" style="font-family:'Liberation Sans',sans-serif;font-size:26px;letter-spacing:0px;font-weight:400" fill="#111">279</text>
<text x="1918.2" y="152" style="font-family:'Liberation Sans',sans-serif;font-size:26px;letter-spacing:0px;font-weight:400" fill="#111">279</text>
<line x1="1975" y1="184.3" x2="2014.2" y2="184.3" stroke="#666" stroke-width="2.6"/>
<line x1="2061" y1="184.3" x2="2100" y2="184.3" stroke="#666" stroke-width="2.6"/>
<polygon points="2014.2,184.3 1994.2,189.3 1994.2,179.3" fill="#1a1a1a"/>
<polygon points="2061,184.3 2081.0,179.3 2081.0,189.3" fill="#1a1a1a"/>
<text x="2109.5" y="194" style="font-family:'Liberation Sans',sans-serif;font-size:26px;letter-spacing:0px;font-weight:400" fill="#111">86</text>
<line x1="1575.9" y1="186" x2="1575.9" y2="700" stroke="#777" stroke-width="2.6"/>
<line x1="1537" y1="196.4" x2="1575.9" y2="196.4" stroke="#666" stroke-width="2.6"/>
<line x1="1663" y1="196.4" x2="1703" y2="196.4" stroke="#666" stroke-width="2.6"/>
<polygon points="1575.9,196.4 1555.9,201.4 1555.9,191.4" fill="#1a1a1a"/>
<polygon points="1663,196.4 1683.0,191.4 1683.0,201.4" fill="#1a1a1a"/>
<text x="1593.8" y="206" style="font-family:'Liberation Sans',sans-serif;font-size:26px;letter-spacing:0px;font-weight:400" fill="#111">171</text>
<text x="1783" y="226" style="font-family:'Liberation Sans',sans-serif;font-size:26px" fill="#666">3"</text>
<path d="M1668,299 L1762,216.8 L1785,216.8" fill="none" stroke="#222" stroke-width="2"/>
<polygon points="1668,299 1680.4,282.8 1685.7,288.8" fill="#1a1a1a"/>
<text x="1480.0" y="280" style="font-family:'Liberation Sans',sans-serif;font-size:25px;letter-spacing:2.2px;font-weight:400" fill="#111">6</text>
<line x1="1518" y1="283" x2="1605.3" y2="362.9" stroke="#222" stroke-width="2"/>
<text x="2193.5" y="236" style="font-family:'Liberation Sans',sans-serif;font-size:25px;letter-spacing:2.2px;font-weight:400" fill="#111">5</text>
<path d="M2084.4,265 L2181,224 L2190,224" fill="none" stroke="#222" stroke-width="2"/>
<polygon points="2084.4,265 2101.2,253.5 2104.4,260.9" fill="#1a1a1a"/>
<text x="2151.5" y="302" style="font-family:'Liberation Sans',sans-serif;font-size:25px;letter-spacing:2.2px;font-weight:400" fill="#111">4</text>
<path d="M2002,354.8 L2137.6,291.8 L2148,291.8" fill="none" stroke="#222" stroke-width="2"/>
<polygon points="2002,354.8 2018.5,342.7 2021.8,350.0" fill="#1a1a1a"/>
<text x="2149.5" y="393" style="font-family:'Liberation Sans',sans-serif;font-size:25px;letter-spacing:2.2px;font-weight:400" fill="#111">3</text>
<line x1="1944" y1="391" x2="2135" y2="381.4" stroke="#222" stroke-width="2"/>
<polygon points="1944,391 1963.8,386.0 1964.2,394.0" fill="#1a1a1a"/>
<text x="2142.5" y="495" style="font-family:'Liberation Sans',sans-serif;font-size:25px;letter-spacing:2.2px;font-weight:400" fill="#111">2</text>
<path d="M1934,592 L2128,483 L2138,483" fill="none" stroke="#222" stroke-width="2"/>
<polygon points="1934,592 1949.5,578.7 1953.4,585.7" fill="#1a1a1a"/>
<text x="2149.5" y="685" style="font-family:'Liberation Sans',sans-serif;font-size:25px;letter-spacing:2.2px;font-weight:400" fill="#111">1</text>
<path d="M1837.4,943.8 L2115.9,673.6 L2136,673.6" fill="none" stroke="#222" stroke-width="2"/>
<polygon points="1837.4,943.8 1849.0,927.0 1854.5,932.7" fill="#1a1a1a"/>
<text x="1716.5" y="1227" style="font-family:'Liberation Sans',sans-serif;font-size:25px;letter-spacing:2.2px;font-weight:400" fill="#111">7</text>
<line x1="1631.6" y1="1135" x2="1716.3" y2="1219.9" stroke="#222" stroke-width="2"/>
<line x1="1740.6" y1="1222.3" x2="2002" y2="1147.2" stroke="#222" stroke-width="2"/>
<line x1="1498.4" y1="972" x2="1806" y2="972" stroke="#333" stroke-width="2"/>
<line x1="1498.4" y1="1188.4" x2="1570" y2="1188.4" stroke="#333" stroke-width="2"/>
<line x1="1508" y1="972" x2="1508" y2="1045" stroke="#666" stroke-width="2.6"/>
<line x1="1508" y1="1075" x2="1508" y2="1188.4" stroke="#666" stroke-width="2.6"/>
<polygon points="1508,972 1513.0,994.0 1503.0,994.0" fill="#1a1a1a"/>
<polygon points="1508,1188.4 1503.0,1166.4 1513.0,1166.4" fill="#1a1a1a"/>
<text x="1484.8" y="1069" style="font-family:'Liberation Sans',sans-serif;font-size:26px;letter-spacing:0px;font-weight:400" fill="#111">400</text>

<rect x="47" y="1880" width="2330" height="102.5" fill="#C4CDC1"/>
<rect x="47" y="1982.5" width="2330" height="1118.0" fill="#F2F2D6"/>
<rect x="46" y="1878.9" width="2332" height="2.2" fill="#000"/>
<rect x="46" y="3099.4" width="2332" height="2.2" fill="#000"/>
<rect x="45.9" y="1879" width="2.2" height="1222.5" fill="#000"/>
<rect x="2375.9" y="1879" width="2.2" height="1222.5" fill="#000"/>
<rect x="46" y="1981.4" width="2332" height="2.2" fill="#000"/>
<rect x="46" y="2171.4" width="2332" height="2.2" fill="#000"/>
<rect x="46" y="2357.9" width="2332" height="2.2" fill="#000"/>
<rect x="46" y="2542.9" width="2332" height="2.2" fill="#000"/>
<rect x="46" y="2744.4" width="2332" height="2.2" fill="#000"/>
<rect x="46" y="2940.4" width="2332" height="2.2" fill="#000"/>
<rect x="261.9" y="1981.5" width="2.2" height="1120.0" fill="#000"/>
<rect x="448.9" y="1981.5" width="2.2" height="1120.0" fill="#000"/>
<rect x="632.9" y="1981.5" width="2.2" height="1120.0" fill="#000"/>
<rect x="812.9" y="1981.5" width="2.2" height="1120.0" fill="#000"/>
<rect x="940.9" y="1981.5" width="2.2" height="1120.0" fill="#000"/>
<rect x="1144.9" y="1981.5" width="2.2" height="1120.0" fill="#000"/>
<rect x="1364.9" y="1981.5" width="2.2" height="1120.0" fill="#000"/>
<rect x="1619.9" y="1981.5" width="2.2" height="1120.0" fill="#000"/>
<rect x="1841.9" y="1981.5" width="2.2" height="1120.0" fill="#000"/>
<rect x="2095.9" y="1981.5" width="2.2" height="1120.0" fill="#000"/>
<rect x="449" y="2054.9" width="366" height="2.2" fill="#000"/>
<rect x="631" y="1983.6" width="6" height="71.3" fill="#F2F2D6"/>
<g transform="scale(0.7,1)"><text class="s" x="150.71 179.79 208.86 237.93 267.00" y="2277" text-anchor="middle" style="font-size:45px">TC–06</text></g>
<g transform="scale(0.7,1)"><text class="s" x="490.14 519.21 548.29" y="2277" text-anchor="middle" style="font-size:45px">328</text></g>
<g transform="scale(0.7,1)"><text class="s" x="743.57 772.64 801.71" y="2277" text-anchor="middle" style="font-size:45px">311</text></g>
<g transform="scale(0.7,1)"><text class="s" x="1000.00 1029.07 1058.14 1087.21" y="2277" text-anchor="middle" style="font-size:45px">0.44</text></g>
<g transform="scale(0.7,1)"><text class="s" x="1241.43 1270.50" y="2277" text-anchor="middle" style="font-size:45px">95</text></g>
<g transform="scale(0.7,1)"><text class="s" x="1467.86 1496.93" y="2277" text-anchor="middle" style="font-size:45px">31</text></g>
<g transform="scale(0.7,1)"><text class="s" x="1723.57 1752.64 1781.71 1810.79" y="2277" text-anchor="middle" style="font-size:45px">0.70</text></g>
<g transform="scale(0.7,1)"><text class="s" x="2090.71 2119.79 2148.86 2177.93" y="2277" text-anchor="middle" style="font-size:45px">0.57</text></g>
<g transform="scale(0.7,1)"><text class="s" x="2457.86 2486.93" y="2277" text-anchor="middle" style="font-size:45px">4"</text></g>
<g transform="scale(0.7,1)"><text class="s" x="2740.71 2769.79 2798.86 2827.93" y="2277" text-anchor="middle" style="font-size:45px">2659</text></g>
<g transform="scale(0.7,1)"><text class="s" x="3110.00 3139.07 3168.14 3197.21 3226.29" y="2277" text-anchor="middle" style="font-size:45px">12.91</text></g>
<g transform="scale(0.7,1)"><text class="s" x="150.71 179.79 208.86 237.93 267.00" y="2345" text-anchor="middle" style="font-size:45px">TC–07</text></g>
<g transform="scale(0.7,1)"><text class="s" x="490.14 519.21 548.29" y="2345" text-anchor="middle" style="font-size:45px">424</text></g>
<g transform="scale(0.7,1)"><text class="s" x="743.57 772.64 801.71" y="2345" text-anchor="middle" style="font-size:45px">402</text></g>
<g transform="scale(0.7,1)"><text class="s" x="1000.00 1029.07 1058.14 1087.21" y="2345" text-anchor="middle" style="font-size:45px">0.57</text></g>
<g transform="scale(0.7,1)"><text class="s" x="1241.43 1270.50" y="2345" text-anchor="middle" style="font-size:45px">95</text></g>
<g transform="scale(0.7,1)"><text class="s" x="1467.86 1496.93" y="2345" text-anchor="middle" style="font-size:45px">40</text></g>
<g transform="scale(0.7,1)"><text class="s" x="1729.29 1758.36 1787.43 1816.50" y="2345" text-anchor="middle" style="font-size:45px">0.70</text></g>
<g transform="scale(0.7,1)"><text class="s" x="2096.43 2125.50 2154.57 2183.64" y="2345" text-anchor="middle" style="font-size:45px">0.69</text></g>
<g transform="scale(0.7,1)"><text class="s" x="2463.57 2492.64" y="2345" text-anchor="middle" style="font-size:45px">4"</text></g>
<g transform="scale(0.7,1)"><text class="s" x="2746.43 2775.50 2804.57 2833.64" y="2345" text-anchor="middle" style="font-size:45px">3032</text></g>
<g transform="scale(0.7,1)"><text class="s" x="3115.71 3144.79 3173.86 3202.93 3232.00" y="2345" text-anchor="middle" style="font-size:45px">14.26</text></g>
<g transform="scale(0.7,1)"><text class="s" x="150.71 179.79 208.86 237.93 267.00" y="2403" text-anchor="middle" style="font-size:45px">TC–08</text></g>
<g transform="scale(0.7,1)"><text class="s" x="490.14 519.21 548.29" y="2403" text-anchor="middle" style="font-size:45px">519</text></g>
<g transform="scale(0.7,1)"><text class="s" x="743.57 772.64 801.71" y="2403" text-anchor="middle" style="font-size:45px">493</text></g>
<g transform="scale(0.7,1)"><text class="s" x="1000.00 1029.07 1058.14 1087.21" y="2403" text-anchor="middle" style="font-size:45px">0.70</text></g>
<g transform="scale(0.7,1)"><text class="s" x="1241.43 1270.50" y="2403" text-anchor="middle" style="font-size:45px">95</text></g>
<g transform="scale(0.7,1)"><text class="s" x="1467.86 1496.93" y="2403" text-anchor="middle" style="font-size:45px">49</text></g>
<g transform="scale(0.7,1)"><text class="s" x="1729.29 1758.36 1787.43 1816.50" y="2403" text-anchor="middle" style="font-size:45px">0.70</text></g>
<g transform="scale(0.7,1)"><text class="s" x="2096.43 2125.50 2154.57 2183.64" y="2403" text-anchor="middle" style="font-size:45px">0.81</text></g>
<g transform="scale(0.7,1)"><text class="s" x="2463.57 2492.64" y="2403" text-anchor="middle" style="font-size:45px">4"</text></g>
<g transform="scale(0.7,1)"><text class="s" x="2746.43 2775.50 2804.57 2833.64" y="2403" text-anchor="middle" style="font-size:45px">3405</text></g>
<g transform="scale(0.7,1)"><text class="s" x="3115.71 3144.79 3173.86 3202.93 3232.00" y="2403" text-anchor="middle" style="font-size:45px">16.50</text></g>
<g transform="scale(0.7,1)"><text class="s" x="150.71 179.79 208.86 237.93 267.00" y="2471" text-anchor="middle" style="font-size:45px">TC–09</text></g>
<g transform="scale(0.7,1)"><text class="s" x="490.14 519.21 548.29" y="2471" text-anchor="middle" style="font-size:45px">614</text></g>
<g transform="scale(0.7,1)"><text class="s" x="743.57 772.64 801.71" y="2471" text-anchor="middle" style="font-size:45px">583</text></g>
<g transform="scale(0.7,1)"><text class="s" x="1000.00 1029.07 1058.14 1087.21" y="2471" text-anchor="middle" style="font-size:45px">0.83</text></g>
<g transform="scale(0.7,1)"><text class="s" x="1241.43 1270.50" y="2471" text-anchor="middle" style="font-size:45px">95</text></g>
<g transform="scale(0.7,1)"><text class="s" x="1467.86 1496.93" y="2471" text-anchor="middle" style="font-size:45px">59</text></g>
<g transform="scale(0.7,1)"><text class="s" x="1729.29 1758.36 1787.43 1816.50" y="2471" text-anchor="middle" style="font-size:45px">0.70</text></g>
<g transform="scale(0.7,1)"><text class="s" x="2096.43 2125.50 2154.57 2183.64" y="2471" text-anchor="middle" style="font-size:45px">0.92</text></g>
<g transform="scale(0.7,1)"><text class="s" x="2463.57 2492.64" y="2471" text-anchor="middle" style="font-size:45px">4"</text></g>
<g transform="scale(0.7,1)"><text class="s" x="2746.43 2775.50 2804.57 2833.64" y="2471" text-anchor="middle" style="font-size:45px">3779</text></g>
<g transform="scale(0.7,1)"><text class="s" x="3115.71 3144.79 3173.86 3202.93 3232.00" y="2471" text-anchor="middle" style="font-size:45px">18.74</text></g>
<g transform="scale(0.7,1)"><text class="s" x="150.71 179.79 208.86 237.93 267.00" y="2539.4" text-anchor="middle" style="font-size:45px">TC–10</text></g>
<g transform="scale(0.7,1)"><text class="s" x="490.14 519.21 548.29" y="2539.4" text-anchor="middle" style="font-size:45px">710</text></g>
<g transform="scale(0.7,1)"><text class="s" x="743.57 772.64 801.71" y="2539.4" text-anchor="middle" style="font-size:45px">674</text></g>
<g transform="scale(0.7,1)"><text class="s" x="1000.00 1029.07 1058.14 1087.21" y="2539.4" text-anchor="middle" style="font-size:45px">0.96</text></g>
<g transform="scale(0.7,1)"><text class="s" x="1241.43 1270.50" y="2539.4" text-anchor="middle" style="font-size:45px">95</text></g>
<g transform="scale(0.7,1)"><text class="s" x="1467.86 1496.93" y="2539.4" text-anchor="middle" style="font-size:45px">68</text></g>
<g transform="scale(0.7,1)"><text class="s" x="1729.29 1758.36 1787.43 1816.50" y="2539.4" text-anchor="middle" style="font-size:45px">0.70</text></g>
<g transform="scale(0.7,1)"><text class="s" x="2096.43 2125.50 2154.57 2183.64" y="2539.4" text-anchor="middle" style="font-size:45px">1.04</text></g>
<g transform="scale(0.7,1)"><text class="s" x="2463.57 2492.64" y="2539.4" text-anchor="middle" style="font-size:45px">5"</text></g>
<g transform="scale(0.7,1)"><text class="s" x="2746.43 2775.50 2804.57 2833.64" y="2539.4" text-anchor="middle" style="font-size:45px">4159</text></g>
<g transform="scale(0.7,1)"><text class="s" x="3115.71 3144.79 3173.86 3202.93 3232.00" y="2539.4" text-anchor="middle" style="font-size:45px">20.98</text></g>
<g transform="scale(0.7,1)"><text class="s" x="150.71 179.79 208.86 237.93 267.00" y="2598.7" text-anchor="middle" style="font-size:45px">TC–11</text></g>
<g transform="scale(0.7,1)"><text class="s" x="490.14 519.21 548.29" y="2598.7" text-anchor="middle" style="font-size:45px">806</text></g>
<g transform="scale(0.7,1)"><text class="s" x="743.57 772.64 801.71" y="2598.7" text-anchor="middle" style="font-size:45px">765</text></g>
<g transform="scale(0.7,1)"><text class="s" x="1000.00 1029.07 1058.14 1087.21" y="2598.7" text-anchor="middle" style="font-size:45px">1.09</text></g>
<g transform="scale(0.7,1)"><text class="s" x="1241.43 1270.50" y="2598.7" text-anchor="middle" style="font-size:45px">95</text></g>
<g transform="scale(0.7,1)"><text class="s" x="1467.86 1496.93" y="2598.7" text-anchor="middle" style="font-size:45px">77</text></g>
<g transform="scale(0.7,1)"><text class="s" x="1723.57 1752.64 1781.71 1810.79" y="2598.7" text-anchor="middle" style="font-size:45px">0.70</text></g>
<g transform="scale(0.7,1)"><text class="s" x="2090.71 2119.79 2148.86 2177.93" y="2598.7" text-anchor="middle" style="font-size:45px">1.15</text></g>
<g transform="scale(0.7,1)"><text class="s" x="2457.86 2486.93" y="2598.7" text-anchor="middle" style="font-size:45px">5"</text></g>
<g transform="scale(0.7,1)"><text class="s" x="2740.71 2769.79 2798.86 2827.93" y="2598.7" text-anchor="middle" style="font-size:45px">4532</text></g>
<g transform="scale(0.7,1)"><text class="s" x="3110.00 3139.07 3168.14 3197.21 3226.29" y="2598.7" text-anchor="middle" style="font-size:45px">23.22</text></g>
<g transform="scale(0.7,1)"><text class="s" x="150.71 179.79 208.86 237.93 267.00" y="2666.8" text-anchor="middle" style="font-size:45px">TC–12</text></g>
<g transform="scale(0.7,1)"><text class="s" x="490.14 519.21 548.29" y="2666.8" text-anchor="middle" style="font-size:45px">902</text></g>
<g transform="scale(0.7,1)"><text class="s" x="743.57 772.64 801.71" y="2666.8" text-anchor="middle" style="font-size:45px">856</text></g>
<g transform="scale(0.7,1)"><text class="s" x="1000.00 1029.07 1058.14 1087.21" y="2666.8" text-anchor="middle" style="font-size:45px">1.22</text></g>
<g transform="scale(0.7,1)"><text class="s" x="1241.43 1270.50" y="2666.8" text-anchor="middle" style="font-size:45px">95</text></g>
<g transform="scale(0.7,1)"><text class="s" x="1467.86 1496.93" y="2666.8" text-anchor="middle" style="font-size:45px">87</text></g>
<g transform="scale(0.7,1)"><text class="s" x="1723.57 1752.64 1781.71 1810.79" y="2666.8" text-anchor="middle" style="font-size:45px">0.70</text></g>
<g transform="scale(0.7,1)"><text class="s" x="2090.71 2119.79 2148.86 2177.93" y="2666.8" text-anchor="middle" style="font-size:45px">1.27</text></g>
<g transform="scale(0.7,1)"><text class="s" x="2457.86 2486.93" y="2666.8" text-anchor="middle" style="font-size:45px">5"</text></g>
<g transform="scale(0.7,1)"><text class="s" x="2740.71 2769.79 2798.86 2827.93" y="2666.8" text-anchor="middle" style="font-size:45px">4906</text></g>
<g transform="scale(0.7,1)"><text class="s" x="3110.00 3139.07 3168.14 3197.21 3226.29" y="2666.8" text-anchor="middle" style="font-size:45px">25.46</text></g>
<g transform="scale(0.7,1)"><text class="s" x="150.71 179.79 208.86 237.93 267.00" y="2734" text-anchor="middle" style="font-size:45px">TC–13</text></g>
<g transform="scale(0.7,1)"><text class="s" x="490.14 519.21 548.29" y="2734" text-anchor="middle" style="font-size:45px">997</text></g>
<g transform="scale(0.7,1)"><text class="s" x="743.57 772.64 801.71" y="2734" text-anchor="middle" style="font-size:45px">946</text></g>
<g transform="scale(0.7,1)"><text class="s" x="1000.00 1029.07 1058.14 1087.21" y="2734" text-anchor="middle" style="font-size:45px">1.35</text></g>
<g transform="scale(0.7,1)"><text class="s" x="1241.43 1270.50" y="2734" text-anchor="middle" style="font-size:45px">95</text></g>
<g transform="scale(0.7,1)"><text class="s" x="1467.86 1496.93" y="2734" text-anchor="middle" style="font-size:45px">98</text></g>
<g transform="scale(0.7,1)"><text class="s" x="1723.57 1752.64 1781.71 1810.79" y="2734" text-anchor="middle" style="font-size:45px">0.70</text></g>
<g transform="scale(0.7,1)"><text class="s" x="2090.71 2119.79 2148.86 2177.93" y="2734" text-anchor="middle" style="font-size:45px">1.39</text></g>
<g transform="scale(0.7,1)"><text class="s" x="2457.86 2486.93" y="2734" text-anchor="middle" style="font-size:45px">5"</text></g>
<g transform="scale(0.7,1)"><text class="s" x="2740.71 2769.79 2798.86 2827.93" y="2734" text-anchor="middle" style="font-size:45px">5284</text></g>
<g transform="scale(0.7,1)"><text class="s" x="3110.00 3139.07 3168.14 3197.21 3226.29" y="2734" text-anchor="middle" style="font-size:45px">26.86</text></g>
<g transform="scale(0.7,1)"><text class="s" x="150.71 179.79 208.86 237.93 267.00" y="2792.3" text-anchor="middle" style="font-size:45px">TC–14</text></g>
<g transform="scale(0.7,1)"><text class="s" x="461.07 490.14 519.21 548.29" y="2792.3" text-anchor="middle" style="font-size:45px">1092</text></g>
<g transform="scale(0.7,1)"><text class="s" x="743.57 772.64 801.71 830.79" y="2792.3" text-anchor="middle" style="font-size:45px">1036</text></g>
<g transform="scale(0.7,1)"><text class="s" x="1000.00 1029.07 1058.14 1087.21" y="2792.3" text-anchor="middle" style="font-size:45px">1.48</text></g>
<g transform="scale(0.7,1)"><text class="s" x="1241.43 1270.50" y="2792.3" text-anchor="middle" style="font-size:45px">95</text></g>
<g transform="scale(0.7,1)"><text class="s" x="1467.86 1496.93 1526.00" y="2792.3" text-anchor="middle" style="font-size:45px">109</text></g>
<g transform="scale(0.7,1)"><text class="s" x="1723.57 1752.64 1781.71 1810.79" y="2792.3" text-anchor="middle" style="font-size:45px">0.70</text></g>
<g transform="scale(0.7,1)"><text class="s" x="2090.71 2119.79 2148.86 2177.93" y="2792.3" text-anchor="middle" style="font-size:45px">1.50</text></g>
<g transform="scale(0.7,1)"><text class="s" x="2457.86 2486.93" y="2792.3" text-anchor="middle" style="font-size:45px">5"</text></g>
<g transform="scale(0.7,1)"><text class="s" x="2740.71 2769.79 2798.86 2827.93" y="2792.3" text-anchor="middle" style="font-size:45px">5655</text></g>
<g transform="scale(0.7,1)"><text class="s" x="3110.00 3139.07 3168.14 3197.21 3226.29" y="2792.3" text-anchor="middle" style="font-size:45px">29.93</text></g>
<g transform="scale(0.7,1)"><text class="s" x="150.71 179.79 208.86 237.93 267.00" y="2860.5" text-anchor="middle" style="font-size:45px">TC–15</text></g>
<g transform="scale(0.7,1)"><text class="s" x="461.07 490.14 519.21 548.29" y="2860.5" text-anchor="middle" style="font-size:45px">1188</text></g>
<g transform="scale(0.7,1)"><text class="s" x="743.57 772.64 801.71 830.79" y="2860.5" text-anchor="middle" style="font-size:45px">1128</text></g>
<g transform="scale(0.7,1)"><text class="s" x="1000.00 1029.07 1058.14 1087.21" y="2860.5" text-anchor="middle" style="font-size:45px">1.61</text></g>
<g transform="scale(0.7,1)"><text class="s" x="1241.43 1270.50" y="2860.5" text-anchor="middle" style="font-size:45px">95</text></g>
<g transform="scale(0.7,1)"><text class="s" x="1467.86 1496.93 1526.00" y="2860.5" text-anchor="middle" style="font-size:45px">119</text></g>
<g transform="scale(0.7,1)"><text class="s" x="1723.57 1752.64 1781.71 1810.79" y="2860.5" text-anchor="middle" style="font-size:45px">0.70</text></g>
<g transform="scale(0.7,1)"><text class="s" x="2090.71 2119.79 2148.86 2177.93" y="2860.5" text-anchor="middle" style="font-size:45px">1.62</text></g>
<g transform="scale(0.7,1)"><text class="s" x="2457.86 2486.93" y="2860.5" text-anchor="middle" style="font-size:45px">5"</text></g>
<g transform="scale(0.7,1)"><text class="s" x="2740.71 2769.79 2798.86 2827.93" y="2860.5" text-anchor="middle" style="font-size:45px">6128</text></g>
<g transform="scale(0.7,1)"><text class="s" x="3110.00 3139.07 3168.14 3197.21 3226.29" y="2860.5" text-anchor="middle" style="font-size:45px">32.17</text></g>
<g transform="scale(0.7,1)"><text class="s" x="150.71 179.79 208.86 237.93 267.00" y="2928.6" text-anchor="middle" style="font-size:45px">TC–16</text></g>
<g transform="scale(0.7,1)"><text class="s" x="461.07 490.14 519.21 548.29" y="2928.6" text-anchor="middle" style="font-size:45px">1284</text></g>
<g transform="scale(0.7,1)"><text class="s" x="743.57 772.64 801.71 830.79" y="2928.6" text-anchor="middle" style="font-size:45px">1218</text></g>
<g transform="scale(0.7,1)"><text class="s" x="1000.00 1029.07 1058.14 1087.21" y="2928.6" text-anchor="middle" style="font-size:45px">1.74</text></g>
<g transform="scale(0.7,1)"><text class="s" x="1241.43 1270.50" y="2928.6" text-anchor="middle" style="font-size:45px">95</text></g>
<g transform="scale(0.7,1)"><text class="s" x="1467.86 1496.93 1526.00" y="2928.6" text-anchor="middle" style="font-size:45px">128</text></g>
<g transform="scale(0.7,1)"><text class="s" x="1723.57 1752.64 1781.71 1810.79" y="2928.6" text-anchor="middle" style="font-size:45px">0.70</text></g>
<g transform="scale(0.7,1)"><text class="s" x="2090.71 2119.79 2148.86 2177.93" y="2928.6" text-anchor="middle" style="font-size:45px">1.73</text></g>
<g transform="scale(0.7,1)"><text class="s" x="2457.86 2486.93" y="2928.6" text-anchor="middle" style="font-size:45px">5"</text></g>
<g transform="scale(0.7,1)"><text class="s" x="2740.71 2769.79 2798.86 2827.93" y="2928.6" text-anchor="middle" style="font-size:45px">6520</text></g>
<g transform="scale(0.7,1)"><text class="s" x="3110.00 3139.07 3168.14 3197.21 3226.29" y="2928.6" text-anchor="middle" style="font-size:45px">34.41</text></g>
<g transform="scale(0.7,1)"><text class="s" x="150.71 179.79 208.86 237.93 267.00" y="2986.3" text-anchor="middle" style="font-size:45px">TC–17</text></g>
<g transform="scale(0.7,1)"><text class="s" x="461.07 490.14 519.21 548.29" y="2986.3" text-anchor="middle" style="font-size:45px">1378</text></g>
<g transform="scale(0.7,1)"><text class="s" x="743.57 772.64 801.71 830.79" y="2986.3" text-anchor="middle" style="font-size:45px">1309</text></g>
<g transform="scale(0.7,1)"><text class="s" x="1000.00 1029.07 1058.14 1087.21" y="2986.3" text-anchor="middle" style="font-size:45px">1.87</text></g>
<g transform="scale(0.7,1)"><text class="s" x="1241.43 1270.50" y="2986.3" text-anchor="middle" style="font-size:45px">95</text></g>
<g transform="scale(0.7,1)"><text class="s" x="1467.86 1496.93 1526.00" y="2986.3" text-anchor="middle" style="font-size:45px">137</text></g>
<g transform="scale(0.7,1)"><text class="s" x="1723.57 1752.64 1781.71 1810.79" y="2986.3" text-anchor="middle" style="font-size:45px">0.70</text></g>
<g transform="scale(0.7,1)"><text class="s" x="2090.71 2119.79 2148.86 2177.93" y="2986.3" text-anchor="middle" style="font-size:45px">1.85</text></g>
<g transform="scale(0.7,1)"><text class="s" x="2457.86 2486.93" y="2986.3" text-anchor="middle" style="font-size:45px">5"</text></g>
<g transform="scale(0.7,1)"><text class="s" x="2740.71 2769.79 2798.86 2827.93" y="2986.3" text-anchor="middle" style="font-size:45px">6912</text></g>
<g transform="scale(0.7,1)"><text class="s" x="3110.00 3139.07 3168.14 3197.21 3226.29" y="2986.3" text-anchor="middle" style="font-size:45px">36.65</text></g>
<g transform="scale(0.7,1)"><text class="s" x="150.71 179.79 208.86 237.93 267.00" y="3054.4" text-anchor="middle" style="font-size:45px">TC–18</text></g>
<g transform="scale(0.7,1)"><text class="s" x="461.07 490.14 519.21 548.29" y="3054.4" text-anchor="middle" style="font-size:45px">1474</text></g>
<g transform="scale(0.7,1)"><text class="s" x="743.57 772.64 801.71 830.79" y="3054.4" text-anchor="middle" style="font-size:45px">1400</text></g>
<g transform="scale(0.7,1)"><text class="s" x="1000.00 1029.07 1058.14 1087.21" y="3054.4" text-anchor="middle" style="font-size:45px">2.00</text></g>
<g transform="scale(0.7,1)"><text class="s" x="1241.43 1270.50" y="3054.4" text-anchor="middle" style="font-size:45px">95</text></g>
<g transform="scale(0.7,1)"><text class="s" x="1467.86 1496.93 1526.00" y="3054.4" text-anchor="middle" style="font-size:45px">147</text></g>
<g transform="scale(0.7,1)"><text class="s" x="1723.57 1752.64 1781.71 1810.79" y="3054.4" text-anchor="middle" style="font-size:45px">0.70</text></g>
<g transform="scale(0.7,1)"><text class="s" x="2090.71 2119.79 2148.86 2177.93" y="3054.4" text-anchor="middle" style="font-size:45px">1.97</text></g>
<g transform="scale(0.7,1)"><text class="s" x="2457.86 2486.93" y="3054.4" text-anchor="middle" style="font-size:45px">5"</text></g>
<g transform="scale(0.7,1)"><text class="s" x="2740.71 2769.79 2798.86 2827.93" y="3054.4" text-anchor="middle" style="font-size:45px">7304</text></g>
<g transform="scale(0.7,1)"><text class="s" x="3110.00 3139.07 3168.14 3197.21 3226.29" y="3054.4" text-anchor="middle" style="font-size:45px">38.89</text></g>
<text x="1095" y="1944" style="font-size:56px;font-weight:700" fill="#000" class="c" letter-spacing="4">TC</text>
<text x="1202" y="1947" style="font-size:53.5px;font-weight:700" fill="#000" class="c">系列</text>
<text x="75" y="2092" style="font-size:39.3px;font-weight:700" fill="#000" class="c">锅炉型号</text>
<text x="332" y="2034" style="font-size:39.3px;font-weight:700" fill="#000" class="c">输入</text>
<text x="330" y="2092" style="font-size:39.3px;font-weight:700" fill="#000" class="c">功率</text>
<g transform="translate(338,2148) scale(0.88,1)"><text class="sb" style="font-size:39px">K W</text></g>
<text x="549" y="2034" style="font-size:39.3px;font-weight:700" fill="#000" class="c">输出功率</text>
<text x="508" y="2092" style="font-size:39.3px;font-weight:700" fill="#000" class="c">热水</text>
<text x="685" y="2092" style="font-size:39.3px;font-weight:700" fill="#000" class="c">蒸汽</text>
<g transform="translate(519,2148) scale(0.88,1)"><text class="sb" style="font-size:39px">K W</text></g>
<text x="706" y="2151" style="font-size:39.3px;font-weight:700" fill="#000" class="c">吨</text>
<text x="844" y="2034" style="font-size:39.3px;font-weight:700" fill="#000" class="c">效率</text>
<g transform="translate(861,2092) scale(0.723,1)"><text class="m" style="font-size:47px">%</text></g>
<text x="1002" y="2034" style="font-size:39.3px;font-weight:700" fill="#000" class="c">耗气量</text>
<g transform="translate(1017,2092) scale(0.723,1)"><text class="m" style="font-size:47px">m<tspan dy="-14" style="font-size:26px">3</tspan><tspan dy="14">/h</tspan></text></g>
<text x="1179" y="2034" style="font-size:39.3px;font-weight:700" fill="#000" class="c">工作压力</text>
<text x="1212" y="2092" class="sb" style="font-size:38px">M</text><g transform="translate(1249,2092) scale(0.723,1)"><text class="m" style="font-size:47px">pa</text></g>
<text x="1396" y="2034" style="font-size:39.3px;font-weight:700" fill="#000" class="c">锅炉水容量</text>
<g transform="translate(1484,2092) scale(0.723,1)"><text class="m" style="font-size:47px">m<tspan dy="-14" style="font-size:26px">3</tspan></text></g>
<text x="1672" y="2034" style="font-size:39.3px;font-weight:700" fill="#000" class="c">供</text>
<g transform="scale(0.75,1)"><text class="s" x="2296.00" y="2034" text-anchor="middle" style="font-size:42px">/</text></g>
<text x="1730" y="2034" style="font-size:39.3px;font-weight:700" fill="#000" class="c">回水</text>
<text x="1715" y="2092" style="font-size:39.3px;font-weight:700" fill="#000" class="c">管径</text>
<text x="1889" y="2034" style="font-size:39.3px;font-weight:700" fill="#000" class="c">锅炉运行</text>
<text x="1911" y="2092" style="font-size:39.3px;font-weight:700" fill="#000" class="c">重量</text>
<g transform="translate(1944,2148) scale(0.97,1)"><text class="s" style="font-size:40px">kg</text></g>
<text x="2134" y="2034" style="font-size:39.3px;font-weight:700" fill="#000" class="c">换热面积</text>
<g transform="translate(2226,2092) scale(0.723,1)"><text class="m" style="font-size:47px">m<tspan dy="-14" style="font-size:26px">2</tspan></text></g>
<text x="43" y="1848" style="font-size:51px;font-weight:500" fill="#12336E" class="c">锅炉技术参数</text>
<text x="2152" y="1847" style="font-size:39px;font-weight:700" fill="#000" class="c">类冷凝锅炉</text>
<text x="618" y="1465" style="font-size:48.5px;font-weight:400" fill="#000" class="c">主视图</text>
<text x="1713" y="1468" style="font-size:48.5px;font-weight:400" fill="#000" class="c">后视图</text>
<text x="321" y="1567" class="se" style="font-size:44px">1</text>
<text x="348" y="1568" style="font-size:44px;font-weight:300" fill="#000" class="c">、</text>
<text x="389" y="1568" style="font-size:44px;font-weight:300" fill="#000" class="c">观火孔</text>
<text x="321" y="1635" class="se" style="font-size:44px">2</text>
<text x="348" y="1636" style="font-size:44px;font-weight:300" fill="#000" class="c">、</text>
<text x="389" y="1636" style="font-size:44px;font-weight:300" fill="#000" class="c">侧风门</text>
<text x="321" y="1702" class="se" style="font-size:44px">3</text>
<text x="348" y="1703" style="font-size:44px;font-weight:300" fill="#000" class="c">、</text>
<text x="389" y="1703" style="font-size:44px;font-weight:300" fill="#000" class="c">烟道连接器</text>
<text x="990" y="1567" class="se" style="font-size:44px">4</text>
<text x="1014" y="1569" style="font-size:44px;font-weight:300" fill="#000" class="c">、</text>
<text x="1056" y="1569" style="font-size:44px;font-weight:300" fill="#000" class="c">烟箱</text>
<text x="987" y="1635" class="se" style="font-size:44px">5</text>
<text x="1011" y="1637" style="font-size:44px;font-weight:300" fill="#000" class="c">、</text>
<text x="1053" y="1637" style="font-size:44px;font-weight:300" fill="#000" class="c">外壳</text>
<text x="990" y="1702" class="se" style="font-size:44px">6</text>
<text x="1014" y="1704" style="font-size:44px;font-weight:300" fill="#000" class="c">、</text>
<text x="1056" y="1704" style="font-size:44px;font-weight:300" fill="#000" class="c">供水口</text>
<text x="1186" y="1702" class="se" style="font-size:44px">6″</text>
<text x="1591" y="1567" class="se" style="font-size:44px">7</text>
<text x="1615" y="1569" style="font-size:44px;font-weight:300" fill="#000" class="c">、</text>
<text x="1657" y="1569" style="font-size:44px;font-weight:300" fill="#000" class="c">回水口</text>
<text x="1789" y="1567" class="se" style="font-size:44px">4″</text>
<text x="1594" y="1635" class="se" style="font-size:44px">8</text>
<text x="1624" y="1637" style="font-size:44px;font-weight:300" fill="#000" class="c">、</text>
<text x="1670" y="1637" style="font-size:44px;font-weight:300" fill="#000" class="c">燃烧机安装法兰</text>
<text x="1595" y="1702" class="se" style="font-size:44px">9</text>
<text x="1625" y="1704" style="font-size:44px;font-weight:300" fill="#000" class="c">、</text>
<text x="1672" y="1702" class="se" style="font-size:44px" letter-spacing="5">3/4”</text>
<text x="1755" y="1704" style="font-size:44px;font-weight:300" fill="#000" class="c">传感器连接孔</text>
<text x="45" y="3157" class="se" style="font-size:40px">1</text>
<text x="73" y="3159" style="font-size:39px;font-weight:300" fill="#000" class="c">、</text>
<text x="113" y="3159" style="font-size:39px;font-weight:300" fill="#000" class="c">轻油燃烧值为</text>
<g transform="scale(0.8,1)"><text class="se" x="449.00 473.50 498.00 522.50 547.00 571.50 596.00 620.50 645.00 669.50 694.00 718.50" y="3156" text-anchor="middle" style="font-size:39.5px">10200kcal/kg</text></g>
<text x="45" y="3206" class="se" style="font-size:40px">2</text>
<text x="73" y="3208" style="font-size:39px;font-weight:300" fill="#000" class="c">、</text>
<text x="113" y="3208" style="font-size:39px;font-weight:300" fill="#000" class="c">天然气燃烧值为</text>
<g transform="scale(0.8,1)"><text class="se" x="497.25 521.75 546.25 570.75 595.25 619.75 644.25 668.75 693.25" y="3205" text-anchor="middle" style="font-size:39.5px">8900kcal/</text></g>
<g transform="scale(0.62,1)"><text class="se" x="926.13 957.74" y="3205" text-anchor="middle" style="font-size:39.5px">Nm</text></g>
<text x="606" y="3190" class="se" style="font-size:20px">3</text><text x="617" y="3205" class="se" style="font-size:36px">,</text>
<text x="637" y="3208" style="font-size:39px;font-weight:300" fill="#000" class="c">密度为</text>
<g transform="scale(0.8,1)"><text class="se" x="956.88 981.38 1005.88 1030.37 1054.88 1079.38 1103.88" y="3205" text-anchor="middle" style="font-size:39.5px">0.60kg/</text></g>
<g transform="scale(0.62,1)"><text class="se" x="1455.97 1487.58" y="3205" text-anchor="middle" style="font-size:39.5px">Nm</text></g>
<text x="935" y="3190" class="se" style="font-size:20px">3</text>

</svg>
</body></html>
